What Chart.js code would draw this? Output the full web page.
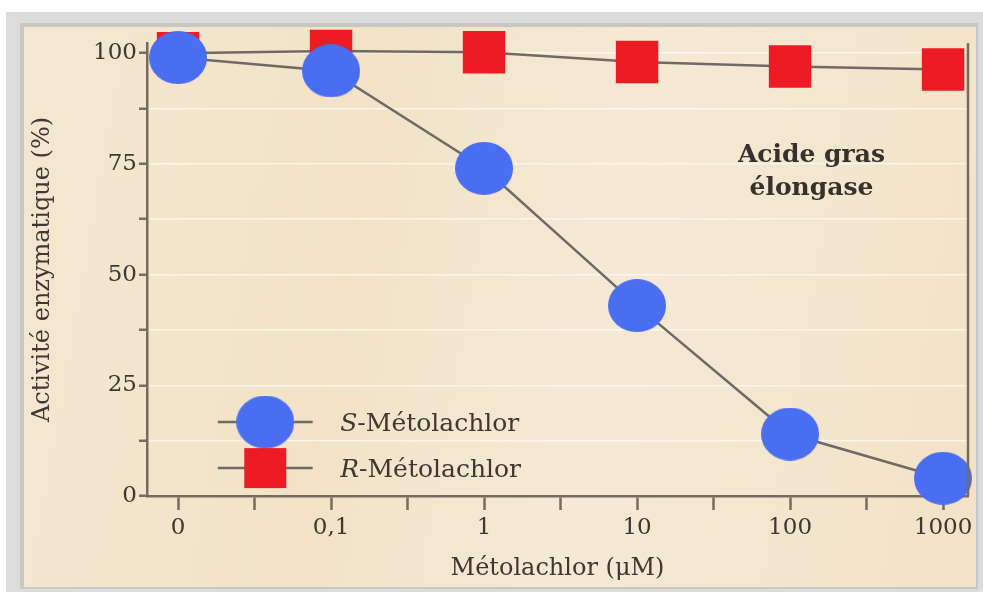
<!DOCTYPE html>
<html>
<head>
<meta charset="utf-8">
<script src="https://cdn.jsdelivr.net/npm/chart.js@4/dist/chart.umd.min.js"></script>
<style>
  html, body { margin: 0; padding: 0; background: #fff; }
  #frame { position: absolute; left: 6px; top: 12px; width: 977px; height: 580px; background: #dcdcdc; }
  #edge { position: absolute; left: 20px; top: 23px; width: 958px; height: 566px; background: #c9c7c3; }
  #paper { position: absolute; left: 24px; top: 27px; width: 952px; height: 560px;
    background: linear-gradient(100deg, #f4e7d1 0%, #f2e3c7 35%, #f5e9d6 60%, #f2e2c6 100%); }
  #chart { position: absolute; left: 0; top: 0; }
</style>
</head>
<body>
<div id="frame"></div>
<div id="edge"></div>
<div id="paper"></div>
<canvas id="chart" width="983" height="592"></canvas>
<script>
// concentrations (µM), plotted one per evenly spaced slot
const xLabels = ['0', '0,1', '1', '10', '100', '1000'];
const sMetolachlor = [99, 96, 74, 43, 14, 4];
const rMetolachlor = [100, 100.5, 100.2, 98, 97, 96.3];
const yTicks = [0, 12.5, 25, 37.5, 50, 62.5, 75, 87.5, 100];
const xTicks = [0, 0.5, 1, 1.5, 2, 2.5, 3, 3.5, 4, 4.5, 5];

const ink = '#3d3833';
const axisCol = '#766b5e';
const blue = '#4a6ef2';
const red = '#ed1c24';
const serif = '"DejaVu Serif", serif';

// slightly wide blue dot, like the scan
const dot = document.createElement('canvas');
dot.width = 58; dot.height = 53;
(function () {
  const c = dot.getContext('2d');
  c.fillStyle = blue;
  c.beginPath();
  c.ellipse(29, 26.5, 29, 26.5, 0, 0, Math.PI * 2);
  c.fill();
})();

const toPoints = arr => arr.map((v, i) => ({ x: i, y: v }));

const overlay = {
  id: 'overlay',
  afterDatasetsDraw(chart) {
    const { ctx, scales: { x, y } } = chart;
    ctx.save();
    // legend
    const lx = x.getPixelForValue(0.57);
    const rows = [{ yv: 16.7, kind: 'S' }, { yv: 6.3, kind: 'R' }];
    rows.forEach(r => {
      const py = y.getPixelForValue(r.yv);
      ctx.strokeStyle = '#6e6a64';
      ctx.lineWidth = 2.5;
      ctx.beginPath();
      ctx.moveTo(x.getPixelForValue(0.26), py);
      ctx.lineTo(x.getPixelForValue(0.88), py);
      ctx.stroke();
      if (r.kind === 'S') {
        ctx.drawImage(dot, lx - dot.width / 2, py - dot.height / 2);
      } else {
        ctx.fillStyle = red;
        ctx.fillRect(lx - 21, py - 20, 42, 40);
      }
      const tx = x.getPixelForValue(1.06);
      ctx.fillStyle = ink;
      ctx.textBaseline = 'middle';
      ctx.textAlign = 'left';
      ctx.font = 'italic 25px ' + serif;
      ctx.fillText(r.kind, tx, py + 2);
      const w = ctx.measureText(r.kind).width;
      ctx.font = '25px ' + serif;
      ctx.fillText('-Métolachlor', tx + w, py + 2);
    });
    // enzyme label
    ctx.font = 'bold 25px ' + serif;
    ctx.textAlign = 'center';
    ctx.fillStyle = '#36312c';
    const ax = x.getPixelForValue(4.14);
    ctx.fillText('Acide gras', ax, y.getPixelForValue(77));
    ctx.fillText('élongase', ax, y.getPixelForValue(69.5));
    // right frame line
    ctx.strokeStyle = axisCol;
    ctx.lineWidth = 2.5;
    ctx.beginPath();
    ctx.moveTo(chart.chartArea.right, chart.chartArea.top);
    ctx.lineTo(chart.chartArea.right, chart.chartArea.bottom);
    ctx.stroke();
    ctx.restore();
  }
};

new Chart(document.getElementById('chart'), {
  type: 'line',
  data: {
    datasets: [
      {
        label: 'S-Métolachlor',
        data: toPoints(sMetolachlor),
        borderColor: '#6e6a64',
        borderWidth: 2.5,
        pointStyle: dot,
        pointRadius: 27,
        clip: false
      },
      {
        label: 'R-Métolachlor',
        data: toPoints(rMetolachlor),
        borderColor: '#6e6a64',
        borderWidth: 2.5,
        pointStyle: 'rect',
        pointRadius: 30,
        pointBackgroundColor: red,
        pointBorderColor: red,
        pointBorderWidth: 0,
        clip: false
      }
    ]
  },
  options: {
    responsive: false,
    animation: false,
    devicePixelRatio: 1,
    layout: { autoPadding: false, padding: { left: 0, top: 43, right: 15, bottom: 0 } },
    plugins: { legend: { display: false }, tooltip: { enabled: false } },
    scales: {
      x: {
        type: 'linear',
        min: -0.203,
        max: 5.163,
        afterBuildTicks: s => { s.ticks = xTicks.map(v => ({ value: v })); },
        afterFit: s => { s.height = 96; s.paddingLeft = 0; s.paddingRight = 0; },
        ticks: {
          autoSkip: false,
          maxRotation: 0,
          padding: 4,
          color: ink,
          font: { family: serif, size: 23 },
          callback: v => Number.isInteger(v) ? xLabels[v] : ''
        },
        grid: { drawOnChartArea: false, tickLength: 14, tickColor: axisCol, tickWidth: 2.5 },
        border: { color: axisCol, width: 2.5 },
        title: {
          display: true,
          text: 'Métolachlor (μM)',
          color: ink,
          font: { family: serif, size: 24 },
          padding: { top: 0, bottom: 9 }
        }
      },
      y: {
        min: 0,
        max: 102.3,
        afterBuildTicks: s => { s.ticks = yTicks.map(v => ({ value: v })); },
        afterFit: s => { s.width = 147; s.paddingTop = 0; s.paddingBottom = 0; },
        ticks: {
          padding: 2,
          color: ink,
          font: { family: serif, size: 23 },
          callback: v => v % 25 === 0 ? String(v) : ''
        },
        grid: { color: 'rgba(255,255,255,0.6)', lineWidth: 1.5, tickLength: 8, tickColor: axisCol, tickWidth: 2.5 },
        border: { color: axisCol, width: 2.5 },
        title: {
          display: true,
          text: 'Activité enzymatique (%)',
          color: ink,
          font: { family: serif, size: 24 },
          padding: { top: 28, bottom: 0 }
        }
      }
    }
  },
  plugins: [overlay]
});
</script>
</body>
</html>
